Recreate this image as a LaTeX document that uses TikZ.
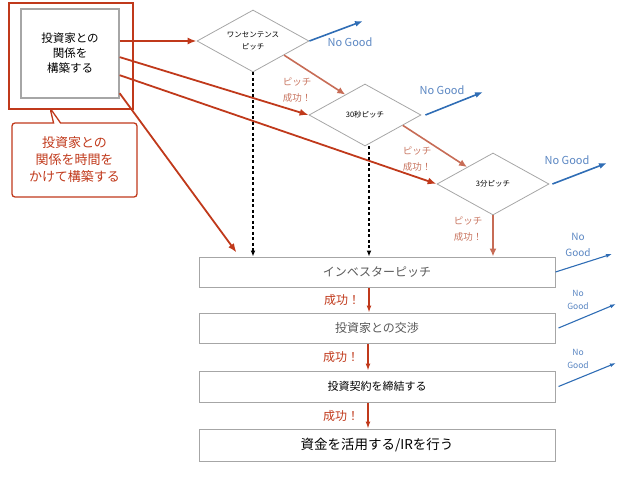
\documentclass[tikz,border=0pt]{standalone}
\usepackage{fontspec}
\setmainfont{Noto Sans CJK JP}
\usetikzlibrary{arrows.meta,positioning,calc,shapes.geometric,shapes.callouts}
\definecolor{framered}{HTML}{C0391B}
\definecolor{okred}{HTML}{C87560}
\definecolor{ngblue}{HTML}{2F6DB5}
\definecolor{nglight}{HTML}{5A86C2}
\definecolor{boxgray}{HTML}{A6A6A6}

\begin{document}
\begin{tikzpicture}[x=1pt, y=-1pt,
  dia/.style={draw=boxgray, line width=0.8pt, diamond, aspect=1.8, inner sep=0pt, minimum width=112pt, minimum height=62pt, align=center, font=\fontsize{7.5}{12}\selectfont},
  stage/.style={draw=boxgray, line width=1pt, minimum width=356pt, minimum height=30pt, font=\fontsize{12}{14}\selectfont},
  leadarrow/.style={framered, line width=1.8pt, -{Latex[length=9pt,width=7pt]}},
  okarrow/.style={okred!85!framered, line width=1.6pt, -{Latex[length=8pt,width=7pt]}},
  goarrow/.style={framered, line width=1.3pt, -{Latex[length=7pt,width=5pt]}},
  dasharrow/.style={black, line width=1.4pt, dash pattern=on 3pt off 2.5pt, -{Latex[length=6pt,width=5pt]}},
  ngarrow/.style={ngblue, line width=1.6pt, -{Latex[length=8pt,width=6pt]}},
  ngthin/.style={ngblue, line width=1.1pt, -{Latex[length=6pt,width=4pt]}},
  oklabel/.style={text=okred, align=center, font=\fontsize{9.5}{16}\selectfont},
  golabel/.style={text=framered, font=\fontsize{12}{14}\selectfont},
  nglabel/.style={text=nglight, align=center, font=\fontsize{11}{13}\selectfont}
]
\useasboundingbox (0,0) rectangle (638,479);

% left block
\node[draw=framered, line width=2.5pt, minimum width=124pt, minimum height=106pt, inner sep=0pt] (frame) at (71,56) {};
\node[draw=boxgray, line width=1.3pt, fill=white, minimum width=98pt, minimum height=89pt, align=center, font=\fontsize{11.5}{15}\selectfont] (rel) at (70,53.5) {投資家との\\関係を\\構築する};
\node[rectangle callout, draw=framered, line width=1.3pt, rounded corners=3pt, minimum width=125pt, minimum height=74pt, callout absolute pointer={(50,108)}, callout pointer width=7pt, text=framered, align=center, font=\fontsize{13}{17}\selectfont] (note) at (74.5,160) {投資家との\\関係を時間を\\かけて構築する};

% pitches
\node[dia] (d1) at (253,41) {ワンセンテンス\\ピッチ};
\node[dia] (d2) at (365,115) {30秒ピッチ};
\node[dia] (d3) at (493,184) {3分ピッチ};

% stages
\node[stage, text=black!65] (b1) at (377,272) {インベスターピッチ};
\node[stage, text=black!65] (b2) at (377,328) {投資家との交渉};
\node[stage, minimum height=31pt, font=\fontsize{11}{14}\selectfont] (b3) at (377,386.5) {投資契約を締結する};
\node[stage, minimum height=32pt, font=\fontsize{13.5}{16}\selectfont] (b4) at (377,445) {資金を活用する/IRを行う};

% from the relation box
\draw[leadarrow] (rel.east |- d1.west) -- (d1.west);
\draw[leadarrow] ($(rel.north east)!0.54!(rel.south east)$) -- (d2.west);
\draw[leadarrow] ($(rel.north east)!0.74!(rel.south east)$) -- (d3.west);
\draw[leadarrow] ($(rel.north east)!0.94!(rel.south east)$) -- ($(b1.north west)+(38,-4)$);

% pitch success
\draw[okarrow] ($(d1.east)!0.45!(d1.south)$) -- ($(d2.west)!0.65!(d2.north)$);
\draw[okarrow] ($(d2.east)!0.33!(d2.south)$) -- ($(d3.west)!0.54!(d3.north)$);
\draw[okarrow] (d3.south) -- (d3.south |- b1.north);
\node[oklabel] (s1) at (297,90) {ピッチ\\成功！};
\node[oklabel] (s2) at (417,159) {ピッチ\\成功！};
\node[oklabel] (s3) at (468,229) {ピッチ\\成功！};

% direct to investor pitch
\draw[dasharrow] (d1.south) -- (d1.south |- b1.north);
\draw[dasharrow] ([xshift=4pt]d2.south) -- ([xshift=4pt]d2.south |- b1.north);

% stage success
\draw[goarrow] ([xshift=-8pt]b1.south) -- ([xshift=-8pt]b2.north) node[golabel, midway, left=5pt] {成功！};
\draw[goarrow] ([xshift=-9pt]b2.south) -- ([xshift=-9pt]b3.north) node[golabel, midway, left=5pt] {成功！};
\draw[goarrow] ([xshift=-9pt]b3.south) -- ([xshift=-9pt]b4.north) node[golabel, midway, left=5pt] {成功！};

% no good
\coordinate (ng1) at (363,21);
\coordinate (ng2) at (483,92);
\coordinate (ng3) at (607,163);
\coordinate (ng4) at (612,254);
\coordinate (ng5) at (616,304);
\coordinate (ng6) at (616,363);
\draw[ngarrow] (d1.east) -- (ng1);
\draw[ngarrow] ([xshift=4pt]d2.east) -- (ng2);
\draw[ngarrow] ([xshift=3pt]d3.east) -- (ng3);
\draw[ngthin] (b1.east) -- (ng4);
\draw[ngthin] ([xshift=3pt]b2.east) -- (ng5);
\draw[ngthin] ([xshift=3pt]b3.east) -- (ng6);
\node[nglabel] (n1) at (350,42) {No Good};
\node[nglabel] (n2) at (442,90) {No Good};
\node[nglabel] (n3) at (567,160) {No Good};
\node[nglabel, font=\fontsize{10}{16}\selectfont] (n4) at (578,245) {No\\Good};
\node[nglabel, font=\fontsize{8.5}{13}\selectfont] (n5) at (578,300) {No\\Good};
\node[nglabel, font=\fontsize{8.5}{13}\selectfont] (n6) at (578,359) {No\\Good};
\end{tikzpicture}
\end{document}
